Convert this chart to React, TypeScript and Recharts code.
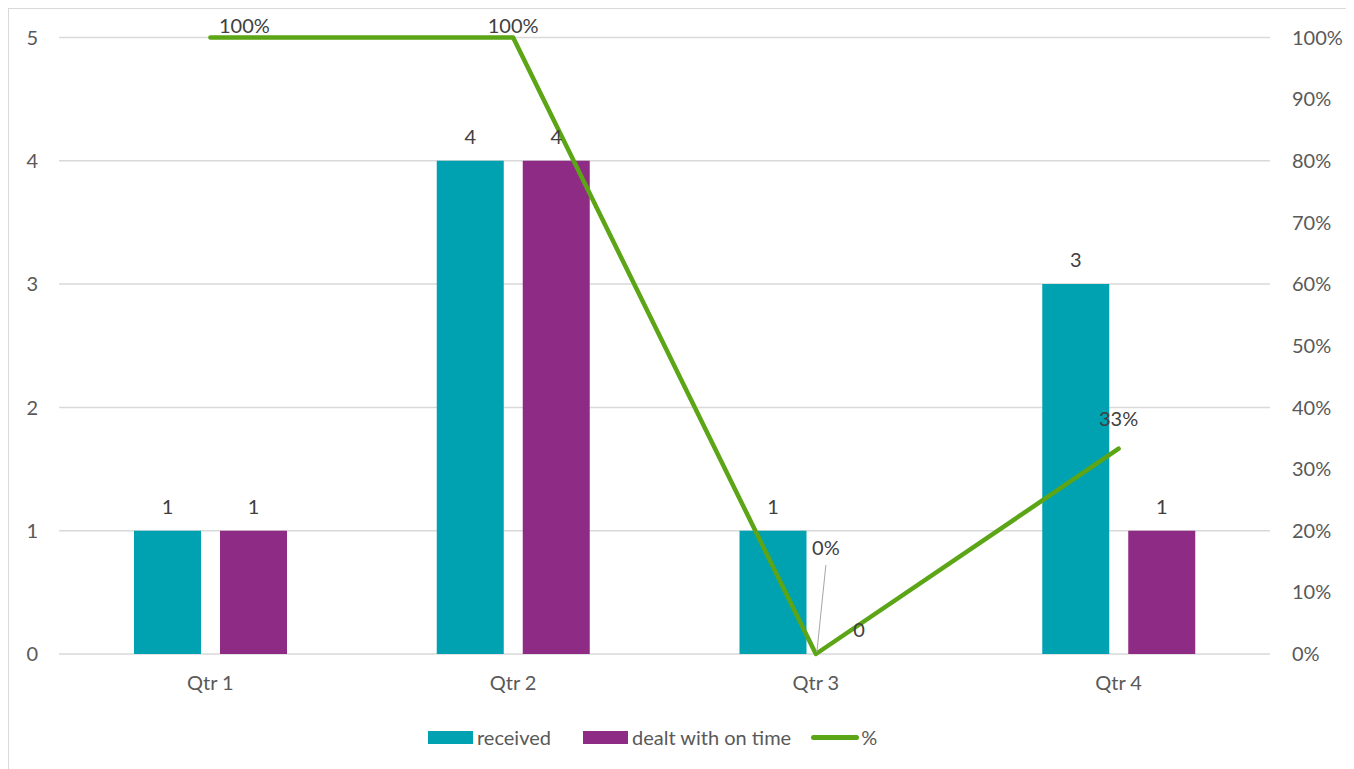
import React from 'react';
import {
  ComposedChart,
  Bar,
  Line,
  XAxis,
  YAxis,
  CartesianGrid,
  LabelList,
  Legend,
} from 'recharts';

// Complaints per quarter and the share dealt with on time
const quarters = ['Qtr 1', 'Qtr 2', 'Qtr 3', 'Qtr 4'];
const received = [1, 4, 1, 3];
const dealtWithOnTime = [1, 4, 0, 1];
const onTimeShare = [1, 1, 0, 0.333];

const countTicks = [0, 1, 2, 3, 4, 5];
const shareTicks = [0, 0.1, 0.2, 0.3, 0.4, 0.5, 0.6, 0.7, 0.8, 0.9, 1];

const data = quarters.map((quarter, i) => ({
  quarter,
  received: received[i],
  dealt: dealtWithOnTime[i],
  pct: onTimeShare[i],
}));

const TEAL = '#00A2B1';
const PURPLE = '#8E2B84';
const GREEN = '#5BA516';
const FONT = 'Lato, "Open Sans", sans-serif';
const FONT_SIZE = 20;
const AXIS_TEXT = '#595959';
const LABEL_TEXT = '#404040';

const fmtPct = (v: number) => `${Math.round(v * 100)}%`;

// Placement of the percentage labels relative to each line vertex
const pctLabelShift = [
  { dx: 34, dy: -5, leader: false },
  { dx: 0, dy: -5, leader: false },
  { dx: 10, dy: -99, leader: true },
  { dx: 0, dy: -23, leader: false },
];

const PctLabel = (props: any) => {
  const { x, y, value, index } = props;
  const s = pctLabelShift[index] || { dx: 0, dy: -8, leader: false };
  return (
    <g>
      {s.leader && (
        <line
          x1={x + s.dx}
          y1={y + s.dy + 10}
          x2={x + 1}
          y2={y - 2}
          stroke="#a6a6a6"
          strokeWidth={1}
        />
      )}
      <text
        x={x + s.dx}
        y={y + s.dy}
        textAnchor="middle"
        fill={LABEL_TEXT}
        fontSize={FONT_SIZE}
        fontFamily={FONT}
      >
        {fmtPct(Number(value))}
      </text>
    </g>
  );
};

// Count label above a bar; zero-height bars still get their label
const CountLabel = (props: any) => {
  const { x, y, width, value } = props;
  return (
    <text
      x={x + width / 2}
      y={y - 17}
      textAnchor="middle"
      fill={LABEL_TEXT}
      fontSize={FONT_SIZE}
      fontFamily={FONT}
    >
      {value}
    </text>
  );
};

const LegendContent = () => (
  <div
    style={{
      display: 'flex',
      alignItems: 'center',
      fontFamily: FONT,
      fontSize: FONT_SIZE,
      color: AXIS_TEXT,
      whiteSpace: 'nowrap',
    }}
  >
    <span style={{ width: 45, height: 13, background: TEAL, display: 'inline-block' }} />
    <span style={{ marginLeft: 4 }}>received</span>
    <span
      style={{ width: 45, height: 13, background: PURPLE, display: 'inline-block', marginLeft: 32 }}
    />
    <span style={{ marginLeft: 4 }}>dealt with on time</span>
    <span
      style={{
        width: 48,
        height: 5,
        background: GREEN,
        borderRadius: 3,
        display: 'inline-block',
        marginLeft: 20,
      }}
    />
    <span style={{ marginLeft: 2 }}>%</span>
  </div>
);

export default function App() {
  return (
    <div
      style={{
        width: 1345,
        height: 761,
        borderLeft: '1px solid #d9d9d9',
        borderTop: '1px solid #d9d9d9',
        background: '#fff',
      }}
    >
      <ComposedChart
        width={1345}
        height={761}
        data={data}
        margin={{ top: 28.5, right: 0, bottom: 86, left: 0 }}
        barSize={67}
        barGap={19}
      >
        <CartesianGrid yAxisId="left" vertical={false} stroke="#d9d9d9" strokeWidth={1.5} />
        <XAxis
          dataKey="quarter"
          axisLine={false}
          tickLine={false}
          tickSize={0}
          tickMargin={22}
          height={30}
          tick={{ fill: AXIS_TEXT, fontSize: FONT_SIZE, fontFamily: FONT }}
        />
        <YAxis
          yAxisId="left"
          domain={[0, 5]}
          ticks={countTicks}
          width={50}
          axisLine={false}
          tickLine={false}
          tickSize={0}
          tickMargin={21}
          tick={{ fill: AXIS_TEXT, fontSize: FONT_SIZE, fontFamily: FONT }}
        />
        <YAxis
          yAxisId="right"
          orientation="right"
          domain={[0, 1]}
          ticks={shareTicks}
          tickFormatter={fmtPct}
          width={84}
          axisLine={false}
          tickLine={false}
          tickSize={0}
          tickMargin={22}
          tick={{ fill: AXIS_TEXT, fontSize: FONT_SIZE, fontFamily: FONT }}
        />
        <Bar
          yAxisId="left"
          dataKey="received"
          name="received"
          fill={TEAL}
          minPointSize={0.01}
          isAnimationActive={false}
        >
          <LabelList dataKey="received" content={<CountLabel />} />
        </Bar>
        <Bar
          yAxisId="left"
          dataKey="dealt"
          name="dealt with on time"
          fill={PURPLE}
          minPointSize={0.01}
          isAnimationActive={false}
        >
          <LabelList dataKey="dealt" content={<CountLabel />} />
        </Bar>
        <Line
          yAxisId="right"
          dataKey="pct"
          name="%"
          type="linear"
          stroke={GREEN}
          strokeWidth={4.5}
          strokeLinecap="round"
          strokeLinejoin="round"
          dot={false}
          activeDot={false}
          isAnimationActive={false}
        >
          <LabelList dataKey="pct" content={<PctLabel />} />
        </Line>
        <Legend
          layout="horizontal"
          verticalAlign="middle"
          align="center"
          content={<LegendContent />}
          wrapperStyle={{ top: 716, left: 419, width: 600, height: 26 }}
        />
      </ComposedChart>
    </div>
  );
}
